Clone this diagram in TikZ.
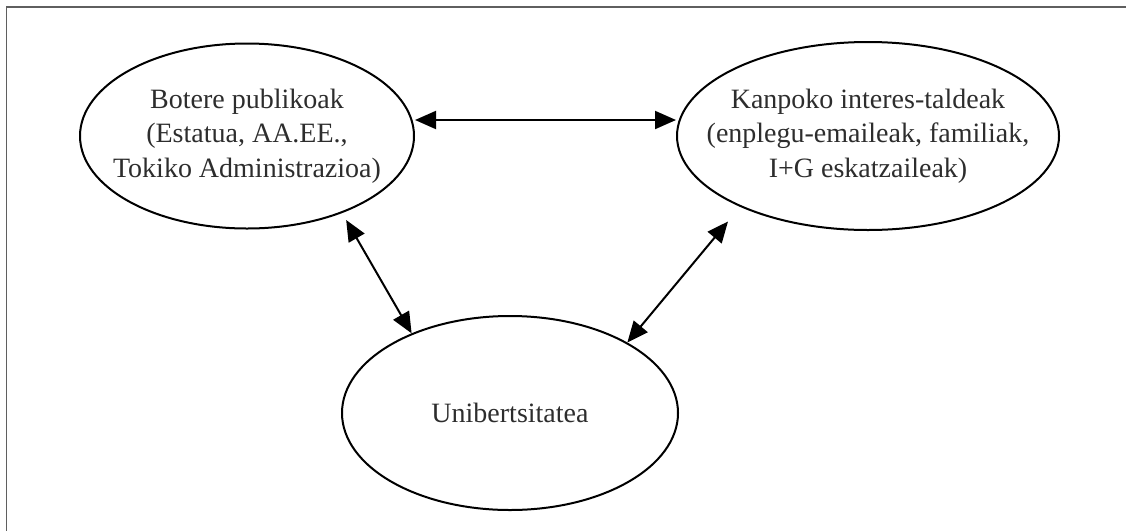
\documentclass[tikz,border=0pt]{standalone}
\usepackage{fontspec}
\setmainfont{Liberation Serif}
\usetikzlibrary{shapes.geometric,arrows.meta}

\definecolor{framegray}{RGB}{95,95,95}
\definecolor{textgray}{RGB}{45,45,45}

\begin{document}
\begin{tikzpicture}[x=1pt,y=-1pt,
    oval/.style={draw, ellipse, line width=2pt, inner sep=0pt},
    lbl/.style={text=textgray, align=center, font=\fontsize{28}{34.5}\selectfont},
    link/.style={{Triangle[length=21pt,width=18pt]}-{Triangle[length=21pt,width=18pt]}, line width=2pt}]
        \useasboundingbox (0,0) rectangle (1126,531);
        % frame
        \draw[framegray, line width=1.6pt] (1126,7) -- (6.5,7) -- (6.5,531);
        % actors
        \node[oval, minimum width=334pt, minimum height=185pt,
            label={[lbl]center:{Botere publikoak\\(Estatua, AA.EE.,\\Tokiko Administrazioa)}}] (botere) at (247,136) {};
        \node[oval, minimum width=382pt, minimum height=188pt,
            label={[lbl]center:{Kanpoko interes-taldeak\\(enplegu-emaileak, familiak,\\I+G eskatzaileak)}}] (kanpo) at (868,136) {};
        \node[oval, minimum width=336pt, minimum height=194pt,
            label={[lbl]center:{Unibertsitatea}}] (uni) at (510,413) {};
        % relations
        \draw[link] ([yshift=16pt]botere.east) -- ([yshift=16pt]kanpo.west);
        \draw[link, shorten <=8pt] (botere.-39) -- (uni.141);
        \draw[link, shorten <=19pt] (kanpo.-151) -- (uni.31);
    \end{tikzpicture}
\end{document}
